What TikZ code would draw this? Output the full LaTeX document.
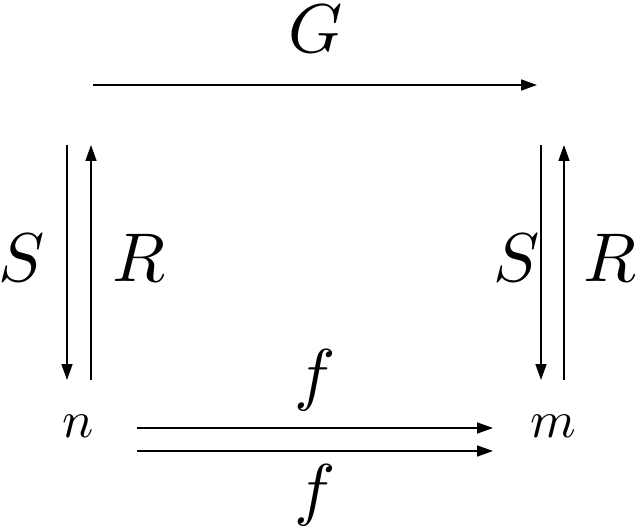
\documentclass[tikz,border=0pt]{standalone}
\usetikzlibrary{arrows.meta}
\begin{document}
\begin{tikzpicture}[x=1pt,y=-1pt,
  arr/.style={line width=1.6pt,-{Triangle[length=16pt,width=11pt]}},
  biglab/.style={scale=6.9,inner sep=0pt},
  objlab/.style={scale=5.2,inner sep=0pt}]
\useasboundingbox (0,0) rectangle (635,532);
% objects
\node[objlab] (n) at (78,426) {$n$};
\node[objlab] (m) at (553,426) {$m$};
\coordinate (gs) at (93,85);
\coordinate (ge) at (537,85);
\coordinate (lsa) at (67,145);
\coordinate (lsb) at (67,380);
\coordinate (lra) at (91,380);
\coordinate (lrb) at (91,145);
\coordinate (rsa) at (541,145);
\coordinate (rsb) at (541,380);
\coordinate (rra) at (564,380);
\coordinate (rrb) at (564,145);
\coordinate (fa1) at (137,428);
\coordinate (fb1) at (493,428);
\coordinate (fa2) at (137,451);
\coordinate (fb2) at (493,451);
% labels
\node[biglab] (G) at (316,28.5) {$G$};
\node[biglab] (S1) at (22,258) {$S$};
\node[biglab] (R1) at (139,258) {$R$};
\node[biglab] (S2) at (517,258) {$S$};
\node[biglab] (R2) at (610,258) {$R$};
\node[biglab] (f1) at (315,380) {$f$};
\node[biglab] (f2) at (315,495) {$f$};
% arrows
\draw[arr] (gs) -- (ge);
\draw[arr] (lsa) -- (lsb);
\draw[arr] (lra) -- (lrb);
\draw[arr] (rsa) -- (rsb);
\draw[arr] (rra) -- (rrb);
\draw[arr] (fa1) -- (fb1);
\draw[arr] (fa2) -- (fb2);
\end{tikzpicture}
\end{document}
